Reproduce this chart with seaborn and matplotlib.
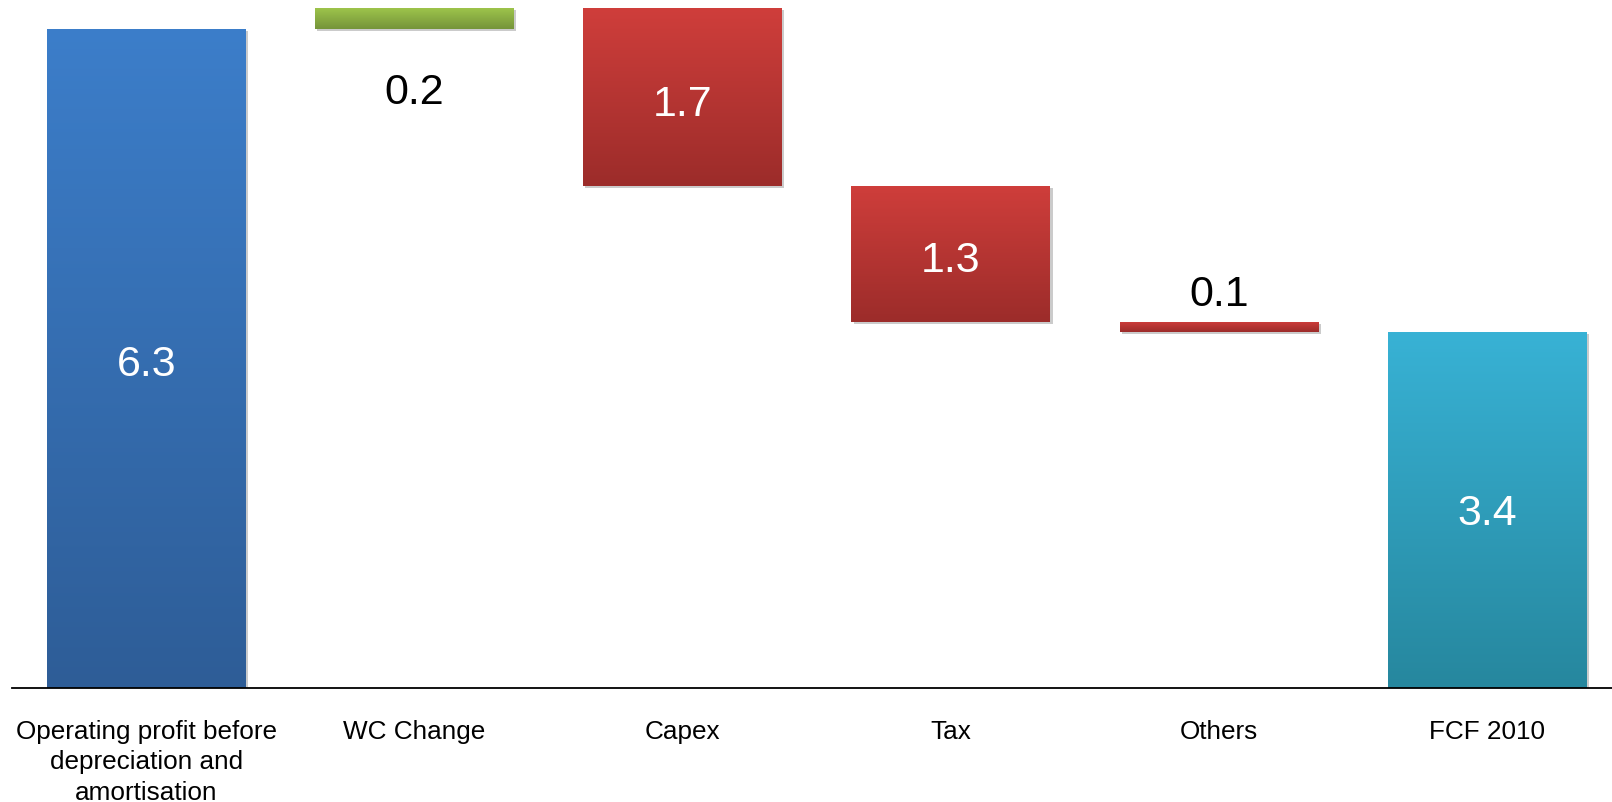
import numpy as np
import pandas as pd
import matplotlib
matplotlib.use("Agg")
import matplotlib.pyplot as plt
import matplotlib.patheffects as pe
from matplotlib.colors import LinearSegmentedColormap
import seaborn as sns

# ---- data ----
categories = ["Operating profit before\ndepreciation and\namortisation",
              "WC Change", "Capex", "Tax", "Others", "FCF 2010"]
changes = [6.3, 0.2, -1.7, -1.3, -0.1, 3.4]
kinds = ["total", "delta", "delta", "delta", "delta", "total"]
value_labels = ["6.3", "0.2", "1.7", "1.3", "0.1", "3.4"]
top_colors = ["#3C7ECA", "#9DC44B", "#CF3E3B", "#CF3E3B", "#CF3E3B", "#38B2D5"]
bottom_colors = ["#2E5D97", "#75943A", "#9C2C2A", "#9C2C2A", "#9C2C2A", "#26879E"]
label_colors = ["white", "black", "white", "white", "black", "white"]
label_offsets_pt = [-5, -54, -6, -5, 23, -3]

# waterfall geometry from the data
bottoms, heights = [], []
running = 0.0
for v, k in zip(changes, kinds):
    if k == "total":
        bottoms.append(0.0)
        heights.append(v)
        running = v
    else:
        if v >= 0:
            bottoms.append(running)
            heights.append(v)
        else:
            bottoms.append(running + v)
            heights.append(-v)
        running += v

df = pd.DataFrame({"category": categories, "height": heights})

sns.set_theme(style="white")
plt.rcParams["font.family"] = ["Liberation Sans", "DejaVu Sans"]

fig = plt.figure(figsize=(16.12, 8.02), dpi=100)
left = 12.3 / 1612
ax = fig.add_axes([left, 0.1418, 1 - left, 0.8582])

sns.barplot(data=df, x="category", y="height", order=categories,
            bottom=bottoms, width=0.742, color=top_colors[0],
            errorbar=None, ax=ax, linewidth=0)

for i, patch in enumerate(ax.patches):
    x0, y0 = patch.get_x(), patch.get_y()
    w, h = patch.get_width(), patch.get_height()
    patch.set_path_effects([
        pe.SimplePatchShadow(offset=(1.5, -1.5), shadow_rgbFace="#555555", alpha=0.3),
        pe.Normal()])
    cmap = LinearSegmentedColormap.from_list("g", [top_colors[i], bottom_colors[i]])
    grad = np.linspace(0, 1, 256).reshape(-1, 1)
    im = ax.imshow(grad, cmap=cmap, aspect="auto", origin="upper",
                   extent=[x0, x0 + w, y0, y0 + h], zorder=2,
                   interpolation="bilinear")
    im.set_clip_path(patch)

    cy = y0 + h / 2
    ax.annotate(value_labels[i], (x0 + w / 2, cy),
                xytext=(0, label_offsets_pt[i]), textcoords="offset points",
                ha="center", va="center", fontsize=31,
                color=label_colors[i], zorder=4)

ax.set_xlim(-0.5, 5.465)
ax.set_ylim(0, 6.574)
ax.set_yticks([])
ax.set_xlabel("")
ax.set_ylabel("")
sns.despine(ax=ax, left=True, top=True, right=True)
ax.spines["bottom"].set_color("black")
ax.spines["bottom"].set_linewidth(1.3)
ax.spines["bottom"].set_zorder(5)
ax.tick_params(axis="x", length=0, pad=23, labelsize=18.8, labelcolor="black")
for t in ax.get_xticklabels():
    t.set_linespacing(1.33)
ax.set_facecolor("white")
fig.patch.set_facecolor("white")

fig.savefig("out.png", dpi=100)
